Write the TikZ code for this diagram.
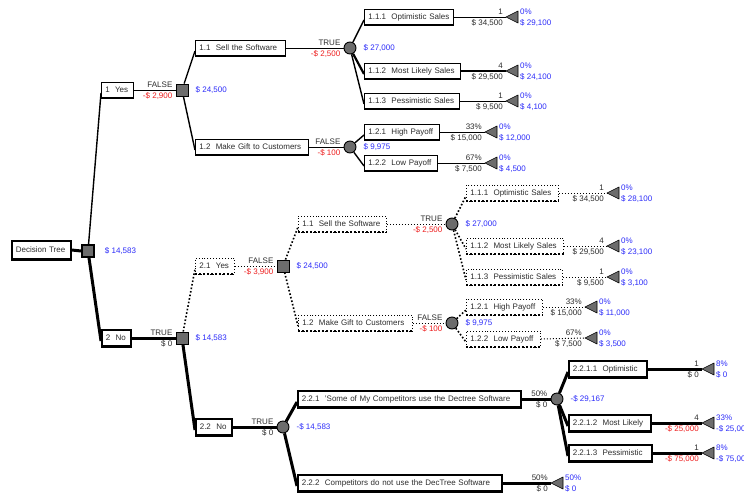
\documentclass[tikz,border=0pt]{standalone}
\usepackage{fontspec}
\setmainfont{Liberation Sans}
\usetikzlibrary{calc}

\definecolor{valblue}{RGB}{45,45,250}
\definecolor{negred}{RGB}{238,30,30}
\definecolor{nodegray}{RGB}{108,108,108}
\definecolor{labgray}{RGB}{45,45,45}

% texts around a terminal: probability, payoff, then path probability and value
\newcommand\termtext[5]{%
  \node[lab, anchor=base east] (#1-p) at ([xshift=-3pt,yshift=3pt]#1) {#2};
  \node[lab, anchor=base east] (#1-v) at ([xshift=-3pt,yshift=-8.5pt]#1) {#3};
  \node[lab, valtxt, anchor=base west] (#1-q) at ([xshift=14pt,yshift=3pt]#1) {#4};
  \node[lab, valtxt, anchor=base west] (#1-w) at ([xshift=14pt,yshift=-8.5pt]#1) {#5};}
% texts around a decision or chance node
\newcommand\nodetext[4]{%
  \node[lab, anchor=base east] (#1-a) at ([xshift=-3pt,yshift=3pt]#1.west) {#2};
  \node[lab, anchor=base east] (#1-b) at ([xshift=-3pt,yshift=-8.5pt]#1.west) {#3};
  \node[lab, valtxt, anchor=west] (#1-c) at ([xshift=7pt]#1.east) {#4};}

\begin{document}
\begin{tikzpicture}[x=1pt, y=-1pt,
  font=\fontsize{8}{9.6}\selectfont,
  bx/.style={rectangle, anchor=west, minimum height=16pt, inner xsep=4pt,
    inner ysep=0pt, align=left, text=labgray},
  solidbox/.style={bx, draw, line width=0.7pt},
  dotbox/.style={bx, draw, dotted, line width=0.9pt},
  heavybox/.style={bx, draw, line width=1.6pt},
  rootbox/.style={bx, draw, line width=1.6pt, minimum height=18pt},
  decsq/.style={rectangle, draw, line width=0.9pt, fill=nodegray,
    minimum size=12pt, inner sep=0pt},
  chc/.style={circle, draw, line width=0.9pt, fill=nodegray,
    minimum size=12pt, inner sep=0pt},
  tri/.style={draw=black, fill=nodegray, line width=0.6pt, line join=round},
  lab/.style={inner sep=0pt, text=labgray},
  valtxt/.style={text=valblue},
  thinln/.style={line width=0.8pt},
  midln/.style={line width=1.4pt},
  boldln/.style={line width=2.2pt},
  dotln/.style={dotted, line width=1pt},
  dotedge/.style={dotted, line width=1.6pt},
  heavyln/.style={line width=3pt},
  botsolid/.style={line width=2pt},
  botdot/.style={dotted, line width=2pt},
  botheavy/.style={line width=3pt}]

\useasboundingbox[fill=white] (0,0) rectangle (744,493);

% ---------- root ----------
\node[rootbox, text width=51pt] (root) at (11,250) {Decision Tree};
\node[decsq, line width=1.4pt] (r0) at (88,251) {};

% ---------- branch 1: Yes ----------
\node[solidbox, text width=24pt] (yes1) at (101,90) {1~~Yes};
\node[decsq] (dec1) at (182,90) {};
\node[solidbox, text width=82pt] (sell1) at (195,48) {1.1~~Sell the Software};
\node[solidbox, text width=105pt] (gift1) at (195,147) {1.2~~Make Gift to Customers};
\node[chc] (ch11) at (350,48) {};
\node[chc] (ch12) at (350,147) {};
\node[solidbox, text width=81pt] (opt1) at (364,17) {1.1.1~~Optimistic Sales};
\node[solidbox, text width=88pt] (ml1) at (364,71) {1.1.2~~Most Likely Sales};
\node[solidbox, text width=87pt] (pes1) at (364,101) {1.1.3~~Pessimistic Sales};
\node[solidbox, text width=67pt] (hi1) at (364,132) {1.2.1~~High Payoff};
\node[solidbox, text width=65pt] (lo1) at (364,163) {1.2.2~~Low Payoff};

% ---------- branch 2: No ----------
\node[heavybox, text width=21pt] (no2) at (101,338) {2~~No};
\node[decsq] (dec2) at (182,338) {};
\node[dotbox, text width=31pt] (yes21) at (195,266) {2.1~~Yes};
\node[heavybox, text width=28pt] (no22) at (195,427) {2.2~~No};

% branch 2.1 (dotted)
\node[decsq] (dec21) at (283,266) {};
\node[dotbox, text width=80pt] (sell21) at (298,224) {1.1~~Sell the Software};
\node[dotbox, text width=106pt] (gift21) at (298,323) {1.2~~Make Gift to Customers};
\node[chc] (ch211) at (452,224) {};
\node[chc] (ch212) at (452,323) {};
\node[dotbox, text width=84pt] (o211) at (466,193) {1.1.1~~Optimistic Sales};
\node[dotbox, text width=89pt] (m212) at (466,246) {1.1.2~~Most Likely Sales};
\node[dotbox, text width=88pt] (p213) at (466,277) {1.1.3~~Pessimistic Sales};
\node[dotbox, text width=68pt] (h221) at (466,307) {1.2.1~~High Payoff};
\node[dotbox, text width=66pt] (l222) at (466,339) {1.2.2~~Low Payoff};

% branch 2.2 (heavy)
\node[chc] (ch22) at (283,427) {};
\node[heavybox, text width=215pt] (c221) at (297,399) {2.2.1~~'Some of My Competitors use the Dectree Software};
\node[heavybox, text width=196pt] (c222) at (297,483) {2.2.2~~Competitors do not use the DecTree Software};
\node[chc] (ch221) at (557,399) {};
\node[heavybox, text width=70pt] (o2211) at (568,369) {2.2.1.1~~Optimistic};
\node[heavybox, text width=74pt] (m2212) at (568,423) {2.2.1.2~~Most Likely};
\node[heavybox, text width=75pt] (p2213) at (568,453) {2.2.1.3~~Pessimistic};

% ---------- heavier bottom edges of the label boxes ----------
\foreach \b in {yes1,sell1,gift1,opt1,ml1,pes1,hi1,lo1}
  \draw[botsolid] (\b.south west) -- (\b.south east);
\foreach \b in {yes21,sell21,gift21,o211,m212,p213,h221,l222}
  \draw[botdot] (\b.south west) -- (\b.south east);
\foreach \b in {root,no2,no22,c221,c222,o2211,m2212,p2213}
  \draw[botheavy] (\b.south west) -- (\b.south east);

% ---------- connectors ----------
\draw[heavyln] (root.east) -- (r0.west);
\draw[midln] (r0) -- ([yshift=-3pt]yes1.west);
\draw[heavyln] (r0) -- ([yshift=-3pt]no2.west);

\draw[thinln] (yes1.east) -- (dec1.west);
\draw[midln] (dec1) -- ([yshift=-3pt]sell1.west);
\draw[midln] (dec1) -- ([yshift=-3pt]gift1.west);
\draw[thinln] (sell1.east) -- (ch11.west);
\draw[thinln] (gift1.east) -- (ch12.west);
\draw[midln] (ch11) -- ([yshift=-3pt]opt1.west);
\draw[boldln] (ch11) -- ([yshift=-3pt]ml1.west);
\draw[midln] (ch11) -- ([yshift=-3pt]pes1.west);
\draw[midln] (ch12) -- ([yshift=-3pt]hi1.west);
\draw[midln] (ch12) -- ([yshift=-3pt]lo1.west);

\draw[heavyln] (no2.east) -- (dec2.west);
\draw[dotedge] (dec2) -- ([yshift=-3pt]yes21.west);
\draw[heavyln] (dec2) -- ([yshift=-3pt]no22.west);
\draw[dotln] (yes21.east) -- (dec21.west);
\draw[dotedge] (dec21) -- ([yshift=-3pt]sell21.west);
\draw[dotedge] (dec21) -- ([yshift=-3pt]gift21.west);
\draw[dotln] (sell21.east) -- (ch211.west);
\draw[dotln] (gift21.east) -- (ch212.west);
\draw[dotedge] (ch211) -- ([yshift=-3pt]o211.west);
\draw[dotedge] (ch211) -- ([yshift=-3pt]m212.west);
\draw[dotedge] (ch211) -- ([yshift=-3pt]p213.west);
\draw[dotedge] (ch212) -- ([yshift=-3pt]h221.west);
\draw[dotedge] (ch212) -- ([yshift=-3pt]l222.west);

\draw[heavyln] (no22.east) -- (ch22.west);
\draw[heavyln] (ch22) -- ([yshift=-3pt]c221.west);
\draw[heavyln] (ch22) -- ([yshift=-3pt]c222.west);
\draw[heavyln] (c221.east) -- (ch221.west);
\draw[heavyln] (ch221) -- ([yshift=-3pt]o2211.west);
\draw[heavyln] (ch221) -- ([yshift=-3pt]m2212.west);
\draw[heavyln] (ch221) -- ([yshift=-3pt]p2213.west);

% ---------- terminals ----------
\coordinate (t111) at (506,17);  \coordinate (t112) at (506,71);
\coordinate (t113) at (506,101); \coordinate (t121) at (485,132);
\coordinate (t122) at (485,163);
\coordinate (u111) at (607,193); \coordinate (u112) at (607,246);
\coordinate (u113) at (607,277); \coordinate (u121) at (585,307);
\coordinate (u122) at (585,338);
\coordinate (v2211) at (702,369); \coordinate (v2212) at (702,423);
\coordinate (v2213) at (702,453); \coordinate (v222) at (551,483);

\draw[thinln] (opt1.east) -- (t111);
\draw[boldln] (ml1.east) -- (t112);
\draw[thinln] (pes1.east) -- (t113);
\draw[thinln] (hi1.east) -- (t121);
\draw[thinln] (lo1.east) -- (t122);
\draw[dotln] (o211.east) -- (u111);
\draw[dotln] (m212.east) -- (u112);
\draw[dotln] (p213.east) -- (u113);
\draw[dotln] (h221.east) -- (u121);
\draw[dotln] (l222.east) -- (u122);
\draw[heavyln] (o2211.east) -- (v2211);
\draw[heavyln] (m2212.east) -- (v2212);
\draw[heavyln] (p2213.east) -- (v2213);
\draw[heavyln] (c222.east) -- (v222);

\foreach \t in {t111,t112,t113,t121,t122,u111,u112,u113,u121,u122,v2211,v2212,v2213,v222}
  \filldraw[tri] (\t) -- ++(12,-6) -- ++(0,12) -- cycle;

% ---------- texts ----------
\node[lab, valtxt, anchor=west] (r0-c) at ([xshift=10pt]r0.east) {\$ 14,583};
\nodetext{dec1}{FALSE}{\textcolor{negred}{-\$ 2,900}}{\$ 24,500}
\nodetext{ch11}{TRUE}{\textcolor{negred}{-\$ 2,500}}{\$ 27,000}
\nodetext{ch12}{FALSE}{\textcolor{negred}{-\$ 100}}{\$ 9,975}
\nodetext{dec2}{TRUE}{\$ 0}{\$ 14,583}
\nodetext{dec21}{FALSE}{\textcolor{negred}{-\$ 3,900}}{\$ 24,500}
\nodetext{ch211}{TRUE}{\textcolor{negred}{-\$ 2,500}}{\$ 27,000}
\nodetext{ch212}{FALSE}{\textcolor{negred}{-\$ 100}}{\$ 9,975}
\nodetext{ch22}{TRUE}{\$ 0}{-\$ 14,583}
\nodetext{ch221}{50\%}{\$ 0}{-\$ 29,167}

\termtext{t111}{1}{\$ 34,500}{0\%}{\$ 29,100}
\termtext{t112}{4}{\$ 29,500}{0\%}{\$ 24,100}
\termtext{t113}{1}{\$ 9,500}{0\%}{\$ 4,100}
\termtext{t121}{33\%}{\$ 15,000}{0\%}{\$ 12,000}
\termtext{t122}{67\%}{\$ 7,500}{0\%}{\$ 4,500}
\termtext{u111}{1}{\$ 34,500}{0\%}{\$ 28,100}
\termtext{u112}{4}{\$ 29,500}{0\%}{\$ 23,100}
\termtext{u113}{1}{\$ 9,500}{0\%}{\$ 3,100}
\termtext{u121}{33\%}{\$ 15,000}{0\%}{\$ 11,000}
\termtext{u122}{67\%}{\$ 7,500}{0\%}{\$ 3,500}
\termtext{v2211}{1}{\$ 0}{8\%}{\$ 0}
\termtext{v2212}{4}{\textcolor{negred}{-\$ 25,000}}{33\%}{-\$ 25,000}
\termtext{v2213}{1}{\textcolor{negred}{-\$ 75,000}}{8\%}{-\$ 75,000}
\termtext{v222}{50\%}{\$ 0}{50\%}{\$ 0}

\end{tikzpicture}
\end{document}
